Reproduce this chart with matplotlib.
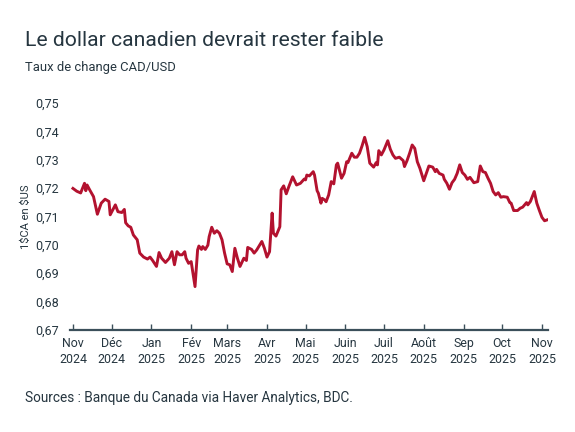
import numpy as np
import pandas as pd
import matplotlib
matplotlib.use("Agg")
import matplotlib.pyplot as plt
import matplotlib.dates as mdates

plt.rcParams['font.family'] = ['Roboto', 'DejaVu Sans']

# days since 1 Nov 2024, CAD/USD
day_offset = [0, 3, 6, 9, 10, 11, 13, 16, 19, 22, 25, 28, 29, 33, 35, 38, 40, 41,
              43, 45, 47, 50, 52, 55, 58, 60, 62, 65, 67, 69, 72, 75, 77, 79, 81,
              83, 85, 87, 88, 90, 92, 95, 97, 98, 100, 101, 103, 105, 106, 108,
              110, 112, 114, 116, 118, 120, 122, 124, 126, 128, 130, 133, 135,
              136, 139, 141, 143, 147, 149, 151, 153, 155, 156, 158, 161, 162,
              164, 166, 168, 171, 174, 177, 180, 181, 182, 184, 187, 188, 190,
              191, 193, 194, 196, 197, 199, 201, 203, 205, 206, 209, 211, 213,
              214, 217, 219, 221, 223, 225, 227, 229, 231, 234, 236, 237, 238,
              240, 242, 245, 247, 249, 251, 254, 257, 258, 260, 262, 264, 266,
              268, 270, 273, 275, 277, 280, 282, 283, 285, 288, 289, 291, 293,
              295, 297, 299, 301, 303, 305, 307, 309, 312, 315, 317, 319, 321,
              323, 325, 327, 329, 331, 333, 335, 338, 340, 341, 343, 346, 348,
              350, 353, 354, 356, 359, 361, 363, 365, 367, 369]
cad_usd = [0.7199, 0.7189, 0.7183, 0.7217, 0.7191, 0.7211, 0.7194, 0.7170, 0.7108,
           0.7147, 0.7161, 0.7153, 0.7106, 0.7141, 0.7117, 0.7114, 0.7125, 0.7078,
           0.7067, 0.7062, 0.7035, 0.7018, 0.6971, 0.6957, 0.6950, 0.6957, 0.6945,
           0.6924, 0.6973, 0.6953, 0.6938, 0.6953, 0.6976, 0.6930, 0.6976, 0.6965,
           0.6965, 0.6976, 0.6953, 0.6935, 0.6941, 0.6853, 0.6982, 0.6996, 0.6984,
           0.6994, 0.6984, 0.6999, 0.7029, 0.7062, 0.7041, 0.7050, 0.7041, 0.7018,
           0.6971, 0.6933, 0.6930, 0.6906, 0.6988, 0.6953, 0.6924, 0.6953, 0.6945,
           0.6991, 0.6984, 0.6971, 0.6982, 0.7012, 0.6988, 0.6957, 0.6976, 0.7112,
           0.7041, 0.7031, 0.7064, 0.7194, 0.7208, 0.7180, 0.7205, 0.7240, 0.7211,
           0.7217, 0.7232, 0.7229, 0.7246, 0.7243, 0.7258, 0.7246, 0.7191, 0.7182,
           0.7147, 0.7164, 0.7158, 0.7152, 0.7176, 0.7223, 0.7215, 0.7282, 0.7288,
           0.7235, 0.7252, 0.7293, 0.7290, 0.7323, 0.7309, 0.7309, 0.7323, 0.7349,
           0.7379, 0.7346, 0.7288, 0.7274, 0.7290, 0.7282, 0.7332, 0.7317, 0.7334,
           0.7367, 0.7337, 0.7317, 0.7305, 0.7309, 0.7297, 0.7276, 0.7297, 0.7323,
           0.7352, 0.7340, 0.7293, 0.7270, 0.7226, 0.7252, 0.7278, 0.7274, 0.7258,
           0.7266, 0.7252, 0.7246, 0.7231, 0.7217, 0.7196, 0.7219, 0.7231, 0.7252,
           0.7282, 0.7255, 0.7246, 0.7231, 0.7238, 0.7219, 0.7223, 0.7278, 0.7258,
           0.7255, 0.7235, 0.7217, 0.7188, 0.7176, 0.7184, 0.7168, 0.7170, 0.7168,
           0.7149, 0.7147, 0.7121, 0.7121, 0.7129, 0.7133, 0.7149, 0.7141, 0.7153,
           0.7188, 0.7147, 0.7121, 0.7097, 0.7085, 0.7088]

month_names = ["Nov", "Déc", "Jan", "Fév", "Mars", "Avr", "Mai", "Juin",
               "Juil", "Août", "Sep", "Oct", "Nov"]
yticks = [0.67, 0.68, 0.69, 0.70, 0.71, 0.72, 0.73, 0.74, 0.75]

start = pd.Timestamp("2024-11-01")
dates = start + pd.to_timedelta(day_offset, unit="D")
month_starts = pd.date_range("2024-11-01", "2025-11-01", freq="MS")

txt = "#263640"
red = "#b3122f"

fig = plt.figure(figsize=(5.75, 4.32), dpi=100)
ax = fig.add_axes([70/575, 1-330/432, 478/575, 227/432])

ax.plot(dates, cad_usd, color=red, linewidth=2.1, solid_joinstyle="round")

ax.set_ylim(0.67, 0.75)
ax.set_xlim(start - pd.Timedelta(days=2.3), start + pd.Timedelta(days=369.7))
ax.set_yticks(yticks)
ax.set_yticklabels([f"{v:.2f}".replace(".", ",") for v in yticks])
ax.set_xticks(month_starts)
ax.set_xticklabels([f"{m}\n{d.year}" for m, d in zip(month_names, month_starts)],
                   linespacing=1.3)

for s in ["top", "right", "left"]:
    ax.spines[s].set_visible(False)
ax.spines["bottom"].set_color("#3b4f5a")
ax.spines["bottom"].set_linewidth(1.6)
ax.tick_params(axis="y", length=0, pad=8, labelsize=9, labelcolor=txt)
ax.tick_params(axis="x", direction="in", length=4, width=1, color="#3b4f5a",
               pad=5, labelsize=8.9, labelcolor=txt)
ax.set_ylabel("1\\$CA en \\$US", fontsize=8, color=txt, labelpad=3)

fig.text(25/575, 1-40/432, "Le dollar canadien devrait rester faible",
         fontsize=15.2, color=txt, va="center", ha="left")
fig.text(25/575, 1-67/432, "Taux de change CAD/USD",
         fontsize=9.4, color=txt, va="center", ha="left")
fig.text(25/575, 1-398/432, "Sources : Banque du Canada via Haver Analytics, BDC.",
         fontsize=9.8, color=txt, va="center", ha="left")

fig.savefig("out.png", dpi=100)
